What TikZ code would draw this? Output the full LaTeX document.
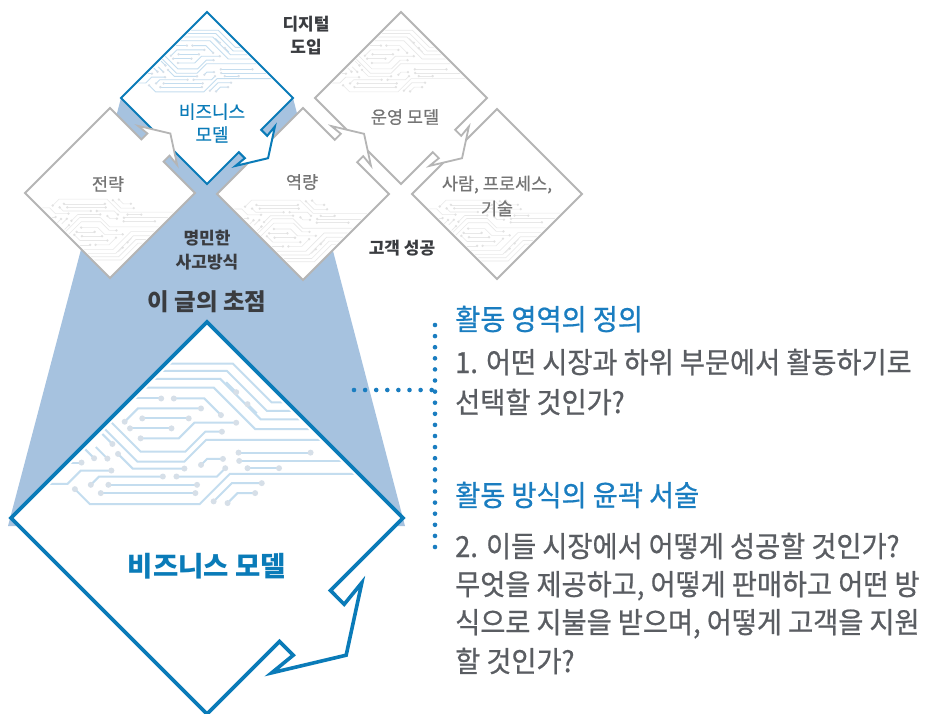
\documentclass[tikz,border=0pt]{standalone}
\usepackage{fontspec}
\setmainfont{Noto Sans CJK KR}
\newfontfamily\bodyfont[FakeStretch=0.94, FakeBold=0.7]{Noto Sans CJK KR}
\newfontfamily\labelfont[FakeBold=0.5]{Noto Sans CJK KR}
\definecolor{mainblue}{HTML}{0A7BB8}
\definecolor{bandblue}{HTML}{A6C2DF}
\definecolor{piecegray}{HTML}{B5B5B5}
\definecolor{labelgray}{HTML}{747474}
\definecolor{darktext}{HTML}{3A3C40}
\definecolor{bodygray}{HTML}{5A5D62}
\definecolor{headblue}{HTML}{1A7DC0}
\definecolor{traceblue}{HTML}{C4DDEF}
\definecolor{dotblue}{HTML}{D6DFE8}
\definecolor{tracegray}{HTML}{E8E8E8}
\definecolor{dotgray}{HTML}{E2E2E2}

% puzzle piece outlines in units of the half-diagonal, tab on the edge between (1,0) and (0,1)
\newcommand{\tabbedpath}{(0,-1) -- (1,0) -- (0.63,0.37) -- (0.70,0.44) -- (0.79,0.33) -- (0.71,0.70) -- (0.33,0.79) -- (0.44,0.70) -- (0.37,0.63) -- (0,1) -- (-1,0) -- cycle}
\newcommand{\plainpath}{(0,-1) -- (1,0) -- (0,1) -- (-1,0) -- cycle}

% circuit-board texture, drawn in a 590-unit frame centred at (500,505)
\newcommand{\circuitlines}{%
  \draw[ctrace] (380,40) -- (578,40) -- (695,157) -- (1100,157);
  \draw[ctrace] (355,62) -- (560,62) -- (680,182) -- (1100,182);
  \draw[ctrace] (330,86) -- (540,86) -- (662,208) -- (1100,208);
  \draw[ctrace] (305,112) -- (520,112) -- (645,237) -- (1100,237);
  \draw[ctrace] (588,126) -- (558,96);
  \draw[ctrace] (622,162) -- (650,190);
  \draw[ctrace] (362,145) -- (250,145);
  \draw[ctrace] (400,145) -- (492,145) -- (542,195);
  \draw[ctrace] (305,205) -- (445,205);
  \draw[ctrace] (252,215) -- (292,175) -- (482,175);
  \draw[ctrace] (268,235) -- (393,235);
  \draw[ctrace] (300,265) -- (415,265) -- (462,218) -- (588,218);
  \draw[ctrace] (190,235) -- (290,335) -- (432,335) -- (497,270) -- (1100,270);
  \draw[ctrace] (200,205) -- (300,305) -- (435,305) -- (495,245) -- (545,245);
  \draw[ctrace] (595,308) -- (812,308);
  \draw[ctrace] (597,333) -- (1100,333);
  \draw[ctrace] (622,355) -- (717,355);
  \draw[ctrace] (482,345) -- (500,327) -- (548,327);
  \draw[ctrace] (232,312) -- (276,356) -- (432,356);
  \draw[ctrace] (408,380) -- (530,380) -- (555,355);
  \draw[ctrace] (150,405) -- (175,380) -- (367,380);
  \draw[ctrace] (203,405) -- (470,405);
  \draw[ctrace] (180,430) -- (465,430);
  \draw[ctrace] (102,418) -- (147,463) -- (478,463) -- (569,372) -- (1100,372);
  \draw[ctrace] (520,455) -- (575,400) -- (665,400);
  \draw[ctrace] (562,460) -- (592,430) -- (645,430);
  \draw[ctrace] (122,338) -- (40,338);
  \draw[ctrace] (160,325) -- (125,290);
  \draw[ctrace] (200,326) -- (165,291);
  \draw[ctrace] (215,282) -- (185,252);
  \draw[ctrace] (212,362) -- (120,362) -- (80,402) -- (0,402);
  \foreach \cx/\cy in {588/126,622/162,362/145,400/145,542/195,305/205,445/205,
      252/215,482/175,268/235,393/235,300/265,588/218,545/245,595/308,812/308,
      597/333,622/355,717/355,482/345,548/327,232/312,432/356,408/380,555/355,
      150/405,367/380,203/405,470/405,180/430,465/430,102/418,520/455,665/400,
      562/460,645/430,122/338,160/325,200/326,215/282,212/362}
    {\fill[cdot] (\cx,\cy) circle (9);}
}

% #1,#2 centre, #3 half-diagonal, #4 vertical orientation (1 or -1),
% #5 outline path, #6 outline style, #7 texture style
\newcommand{\drawpiece}[7]{%
  \begin{scope}[shift={(#1,#2)}, xscale=#3, yscale=#4*#3]
    \fill[white] #5;
    \begin{scope}
      \clip (0,-0.97) -- (0.97,0) -- (0,0.97) -- (-0.97,0) -- cycle;
      \begin{scope}[scale=1/590, shift={(-500,-505)}, #7]
        \circuitlines
      \end{scope}
    \end{scope}
    \draw[#6] #5;
  \end{scope}}

\begin{document}
\begin{tikzpicture}[x=1pt, y=-1pt,
  ctrace/.style={draw=traceblue, line width=2pt},
  cdot/.style={fill=dotblue},
  bluetex/.style={ctrace/.style={draw=traceblue, line width=0.9pt}, cdot/.style={fill=dotblue}},
  bigtex/.style={ctrace/.style={draw=traceblue, line width=2pt}, cdot/.style={fill=dotblue}},
  graytex/.style={ctrace/.style={draw=tracegray, line width=0.6pt}, cdot/.style={fill=dotgray}},
  grayedge/.style={draw=piecegray, line width=1.8pt, line join=miter},
  blueedge/.style={draw=mainblue, line width=2pt, line join=miter},
  bigedge/.style={draw=mainblue, line width=3.6pt, line join=miter},
  darklabel/.style={font=\fontsize{17}{23}\selectfont\bfseries, text=darktext, align=center, inner sep=0pt},
  graylabel/.style={font=\labelfont\fontsize{17.5}{25}\selectfont, text=labelgray, align=center, inner sep=0pt},
  bluelabel/.style={font=\labelfont\fontsize{18}{23}\selectfont, text=mainblue, align=center, inner sep=0pt},
  heading/.style={font=\bodyfont\fontsize{29}{30}\selectfont, text=headblue, anchor=base west, inner sep=0pt},
  bodyline/.style={font=\bodyfont\fontsize{29}{30}\selectfont, text=bodygray, anchor=base west, inner sep=0pt},
  dotrule/.style={draw=headblue, line width=4.6pt, line cap=round, dash pattern=on 0pt off 11.1pt}
]
\useasboundingbox (0,0) rectangle (927,713);

% focus band between the small and the large business-model piece
\fill[bandblue] (121,98) -- (293,98) -- (405,526) -- (8,526) -- cycle;

% puzzle pieces, back to front
\drawpiece{497}{194}{85}{-1}{\plainpath}{grayedge}{graytex}
\drawpiece{401}{98}{86}{1}{\tabbedpath}{grayedge}{graytex}
\drawpiece{303}{194}{86}{-1}{\tabbedpath}{grayedge}{graytex}
\drawpiece{207}{98}{86}{1}{\tabbedpath}{blueedge}{bluetex}
\drawpiece{110}{193}{85}{-1}{\tabbedpath}{grayedge}{graytex}
\drawpiece{207}{518}{196}{1}{\tabbedpath}{bigedge}{bigtex}

% labels of the pieces
\node[darklabel] (digital) at (306,36) {디지털\\도입};
\node[bluelabel] (bmsmall) at (212,123) {비즈니스\\모델};
\node[graylabel] (strategy) at (108,184) {전략};
\node[graylabel] (capability) at (302,182) {역량};
\node[graylabel] (opmodel) at (405,117) {운영 모델};
\node[graylabel] (people) at (497,196) {사람, 프로세스,\\기술};
\node[darklabel] (success) at (402,248) {고객 성공};
\node[darklabel, font=\fontsize{17}{24}\selectfont\bfseries] (mindset) at (207,250) {명민한\\사고방식};
\node[darklabel, font=\fontsize{23.5}{26}\selectfont\bfseries] (focus) at (207,302) {이 글의 초점};
\node[font=\fontsize{27.5}{30}\selectfont\bfseries, text=mainblue, inner sep=0pt] (bmbig) at (207,566) {비즈니스 모델};

% explanatory text
\node[heading] (headA) at (455,330) {활동 영역의 정의};
\node[bodyline] (bodyA1) at (455,373) {1. 어떤 시장과 하위 부문에서 활동하기로};
\node[bodyline] (bodyA2) at (455,413) {선택할 것인가?};
\node[heading] (headB) at (455,506) {활동 방식의 윤곽 서술};
\node[bodyline] (bodyB1) at (455,557) {2. 이들 시장에서 어떻게 성공할 것인가?};
\node[bodyline] (bodyB2) at (455,595) {무엇을 제공하고, 어떻게 판매하고 어떤 방};
\node[bodyline] (bodyB3) at (455,633) {식으로 지불을 받으며, 어떻게 고객을 지원};
\node[bodyline] (bodyB4) at (455,672) {할 것인가?};

% dotted bracket linking the large piece to the text
\coordinate (vtop) at (435,325);
\coordinate (vbot) at (435,558);
\coordinate (hjoin) at (435,390);
\coordinate (hstart) at (354,390);
\draw[dotrule] (vtop) -- (vbot);
\draw[dotrule] (hstart) -- (hjoin);
\end{tikzpicture}
\end{document}
